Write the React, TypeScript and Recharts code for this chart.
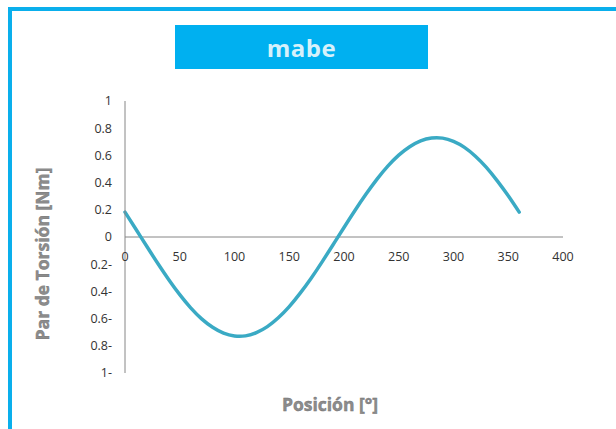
import React from 'react';
import { LineChart, Line, XAxis, YAxis, ReferenceLine, Label } from 'recharts';

const angles = [0, 10, 20, 30, 40, 50, 60, 70, 80, 90, 100, 110, 120, 130, 140, 150, 160, 170, 180, 190, 200, 210, 220, 230, 240, 250, 260, 270, 280, 290, 300, 310, 320, 330, 340, 350, 360];
const torque = [0.183, 0.057, -0.07, -0.195, -0.314, -0.424, -0.521, -0.602, -0.664, -0.707, -0.728, -0.727, -0.703, -0.659, -0.594, -0.512, -0.413, -0.303, -0.183, -0.057, 0.07, 0.195, 0.314, 0.424, 0.521, 0.602, 0.664, 0.707, 0.728, 0.727, 0.703, 0.659, 0.594, 0.512, 0.413, 0.303, 0.183];
const xTicks = [0, 50, 100, 150, 200, 250, 300, 350, 400];
const yTicks = [-1, -0.8, -0.6, -0.4, -0.2, 0, 0.2, 0.4, 0.6, 0.8, 1];

const title = 'mabe';
const xTitle = 'Posición [°]';
const yTitle = 'Par de Torsión [Nm]';

const data = angles.map((a, i) => ({ pos: a, torque: torque[i] }));

const W = 616;
const H = 429;
const MARGIN = { top: 101, right: 53, bottom: 26, left: 0 };
const PLOT_H = H - MARGIN.top - MARGIN.bottom - 30;

const tickFont = "'Open Sans', 'Liberation Sans', sans-serif";

const fmtY = (v: number) => (v < 0 ? `${Math.abs(v)}-` : `${v}`);

const XTick = (props: any) => {
  const { x, y, payload } = props;
  return (
    <text
      x={x}
      y={y - PLOT_H / 2 + 19}
      textAnchor="middle"
      dominantBaseline="central"
      fontFamily={tickFont}
      fontSize={12.5}
      fill="#333333"
    >
      {payload.value}
    </text>
  );
};

const titleStyle = {
  fontFamily: tickFont,
  fontWeight: 700,
  fontSize: 17.5,
  fill: '#8c8c8c',
  stroke: '#6f6f6f',
  strokeWidth: 0.4,
};

const YTitle = (props: any) => {
  const vb = props.viewBox || { x: 0, y: 101, width: 125, height: 272 };
  const cx = vb.x + 42;
  const cy = vb.y + vb.height / 2 + 17;
  return (
    <text
      x={cx}
      y={cy}
      transform={`rotate(-90 ${cx} ${cy})`}
      textAnchor="middle"
      dominantBaseline="central"
      style={titleStyle}
    >
      {yTitle}
    </text>
  );
};

const XTitle = (props: any) => {
  const vb = props.viewBox || { x: 125, y: 373, width: 438, height: 30 };
  const cx = vb.x + vb.width / 2 - 14;
  const cy = vb.y + 31;
  return (
    <text x={cx} y={cy} textAnchor="middle" dominantBaseline="central" style={titleStyle}>
      {xTitle}
    </text>
  );
};

export default function App() {
  return (
    <div
      style={{
        position: 'absolute',
        left: 0,
        top: 0,
        width: W,
        height: H,
        overflow: 'hidden',
        background: '#ffffff',
      }}
    >
      <div
        style={{
          position: 'absolute',
          left: 8,
          top: 7,
          width: W,
          height: H,
          borderLeft: '4px solid #0AAFEC',
          borderTop: '4px solid #0AAFEC',
          boxSizing: 'border-box',
        }}
      />
      <div
        style={{
          position: 'absolute',
          left: 175,
          top: 25,
          width: 253,
          height: 44,
          background: '#00B0F0',
          color: '#d6f1fb',
          fontFamily: tickFont,
          fontWeight: 700,
          fontSize: 24,
          letterSpacing: 0.5,
          display: 'flex',
          alignItems: 'center',
          justifyContent: 'center',
        }}
      >
        {title}
      </div>
      <div style={{ position: 'absolute', left: 0, top: 0 }}>
        <LineChart width={W} height={H} data={data} margin={MARGIN}>
          <XAxis
            dataKey="pos"
            type="number"
            domain={[0, 400]}
            ticks={xTicks}
            axisLine={false}
            tickLine={false}
            tickSize={0}
            tickMargin={0}
            height={30}
            tick={<XTick />}
            interval={0}
          >
            <Label content={<XTitle />} />
          </XAxis>
          <YAxis
            type="number"
            domain={[-1, 1]}
            ticks={yTicks}
            width={125}
            axisLine={{ stroke: '#868686', strokeWidth: 1 }}
            tickLine={false}
            tickSize={0}
            tickMargin={13}
            tickFormatter={fmtY}
            tick={{ fontFamily: tickFont, fontSize: 12.5, fill: '#333333' }}
            interval={0}
          >
            <Label content={<YTitle />} />
          </YAxis>
          <ReferenceLine y={0} stroke="#868686" strokeWidth={1} />
          <Line
            type="natural"
            dataKey="torque"
            stroke="#3AAAC4"
            strokeWidth={3.5}
            dot={false}
            isAnimationActive={false}
            strokeLinecap="round"
          />
        </LineChart>
      </div>
    </div>
  );
}
